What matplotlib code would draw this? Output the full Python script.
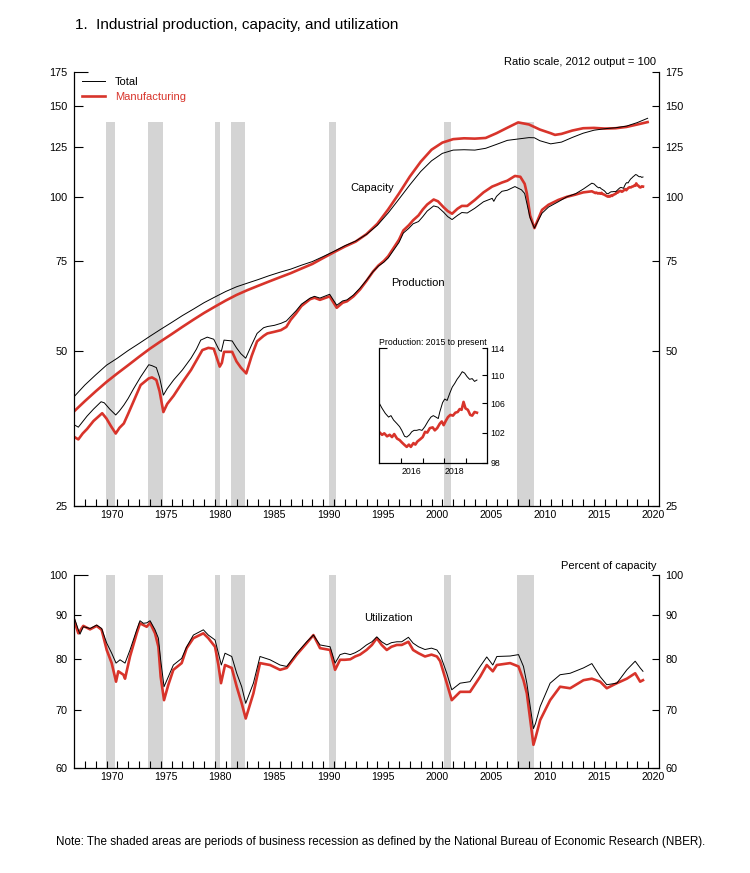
import matplotlib
matplotlib.use("Agg")
import matplotlib.pyplot as plt
from matplotlib.ticker import FixedLocator, FixedFormatter, NullFormatter, NullLocator
import numpy as np

plt.rcParams['font.family'] = ['Liberation Sans', 'DejaVu Sans']

# ---------------- data ----------------
# NBER recessions (peak to trough), decimal years
rec_start = [1969.92, 1973.83, 1980.0, 1981.5, 1990.5, 2001.17, 2007.92]
rec_end = [1970.83, 1975.17, 1980.5, 1982.83, 1991.17, 2001.83, 2009.42]

# Capacity, total industry (2012 output = 100)
cap_total_years = [1967, 1968, 1969, 1970, 1971, 1972, 1973, 1974, 1975, 1976, 1977, 1978,
                   1979, 1980, 1981, 1982, 1983, 1984, 1985, 1986, 1987, 1988, 1989, 1990,
                   1991, 1992, 1993, 1994, 1995, 1996, 1997, 1998, 1999, 2000, 2001, 2002,
                   2003, 2004, 2005, 2006, 2007, 2008, 2009, 2009.5, 2010, 2011, 2012, 2013,
                   2014, 2015, 2016, 2017, 2018, 2019, 2019.95]
cap_total = [40.8, 43.0, 45.0, 47.0, 48.5, 50.2, 51.8, 53.5, 55.2, 56.9, 58.7, 60.4,
             62.2, 63.8, 65.4, 66.8, 67.9, 69.0, 70.2, 71.3, 72.3, 73.6, 74.8, 76.5,
             78.3, 80.3, 82.0, 84.5, 88.0, 93.0, 99.0, 105.5, 112.0, 117.5, 121.5, 123.3,
             123.5, 123.3, 124.3, 126.5, 128.8, 129.6, 130.4, 130.3, 128.6, 126.8, 127.8, 130.5,
             133.0, 134.8, 135.7, 136.3, 137.3, 139.5, 142.2]

# Capacity, manufacturing
cap_mfg_years = [1967, 1968, 1969, 1970, 1971, 1972, 1973, 1974, 1975, 1976, 1977, 1978,
                 1979, 1980, 1981, 1982, 1983, 1984, 1985, 1986, 1987, 1988, 1989, 1990,
                 1991, 1992, 1993, 1994, 1995, 1996, 1997, 1998, 1999, 2000, 2001, 2002,
                 2003, 2004, 2005, 2006, 2007, 2008, 2009, 2010, 2011, 2011.4, 2012, 2013,
                 2014, 2015, 2016, 2017, 2018, 2019, 2019.95]
cap_mfg = [38.2, 40.0, 41.8, 43.6, 45.3, 47.0, 48.8, 50.6, 52.3, 54.0, 55.8, 57.6,
           59.4, 61.1, 62.8, 64.4, 65.8, 67.1, 68.4, 69.7, 71.0, 72.5, 74.0, 76.0,
           78.0, 80.0, 81.8, 84.6, 88.6, 94.5, 101.5, 109.5, 117.0, 123.5, 127.5, 129.5,
           130.0, 129.8, 130.2, 133.0, 136.3, 139.6, 138.3, 135.2, 133.0, 132.0, 132.6, 134.6,
           136.0, 136.2, 135.8, 136.0, 136.8, 138.3, 139.8]

# Industrial production, total
prod_total_years = [1967.0, 1967.4, 1967.8, 1968.2, 1968.8, 1969.5, 1969.8, 1970.3, 1970.85,
                    1971.2, 1971.6, 1972.0, 1972.5, 1973.15, 1973.9, 1974.2, 1974.6, 1974.9,
                    1975.25, 1975.6, 1976.2, 1977.0, 1977.8, 1978.3, 1978.7, 1979.3, 1979.9,
                    1980.4, 1980.6, 1980.85, 1981.6, 1982.0, 1982.4, 1982.85, 1983.4, 1983.9,
                    1984.5, 1984.85, 1985.5, 1986.1, 1986.6, 1987.0, 1987.5, 1988.0, 1988.8,
                    1989.2, 1989.7, 1990.6, 1991.25, 1991.8, 1992.2, 1992.8, 1993.4, 1994.0,
                    1994.6, 1995.1, 1995.6, 1996.0, 1996.5, 1997.0, 1997.4, 1997.9, 1998.3,
                    1998.8, 1999.2, 1999.6, 2000.2, 2000.6, 2001.1, 2001.5, 2001.9, 2002.4,
                    2002.8, 2003.3, 2004.0, 2004.8, 2005.6, 2005.75, 2006.0, 2006.5, 2007.0,
                    2007.7, 2008.3, 2008.6, 2008.8, 2009.1, 2009.5, 2009.8, 2010.2, 2010.8,
                    2011.7, 2012.5, 2013.3, 2014.0, 2014.8,
                    2015.02, 2015.13, 2015.28, 2015.43, 2015.54, 2015.66, 2015.82, 2015.94,
                    2016.04, 2016.17, 2016.27, 2016.40, 2016.50, 2016.61, 2016.73, 2016.85,
                    2016.98, 2017.11, 2017.27, 2017.39, 2017.50, 2017.62, 2017.73, 2017.80,
                    2017.93, 2018.03, 2018.14, 2018.26, 2018.38, 2018.49, 2018.60, 2018.72,
                    2018.84, 2018.95, 2019.06, 2019.18, 2019.30, 2019.41, 2019.52]
prod_total = [36.0, 35.6, 36.5, 37.4, 38.6, 39.9, 39.7, 38.6, 37.6,
              38.3, 39.3, 40.5, 42.3, 44.6, 47.1, 46.9, 46.5, 44.5,
              41.1, 42.3, 44.0, 46.0, 48.5, 50.5, 52.6, 53.3, 52.8,
              50.3, 50.0, 52.6, 52.4, 50.8, 49.5, 48.5, 51.5, 54.2,
              55.6, 55.9, 56.2, 56.7, 57.3, 58.5, 60.0, 61.8, 63.5,
              64.0, 63.5, 64.6, 61.5, 62.7, 63.0, 64.4, 66.4, 68.8,
              71.5, 73.3, 74.6, 76.0, 78.7, 81.5, 85.0, 86.8, 88.6,
              89.5, 91.5, 93.8, 96.0, 95.5, 93.4, 91.5, 90.3, 92.0,
              93.2, 93.0, 95.0, 97.8, 99.3, 98.0, 100.2, 102.5, 103.0,
              104.7, 103.2, 101.5, 97.2, 91.0, 86.9, 89.5, 92.9, 95.5,
              97.8, 100.0, 101.4, 103.5, 106.3,
              105.9, 105.3, 104.6, 104.1, 104.3, 103.7, 103.2, 102.8,
              102.3, 101.5, 101.4, 101.7, 102.1, 102.3, 102.3, 102.4,
              102.3, 102.8, 103.6, 104.1, 104.3, 104.1, 103.9, 104.8,
              106.1, 106.6, 106.4, 107.4, 108.3, 108.8, 109.4, 109.9,
              110.5, 110.3, 109.8, 109.4, 109.5, 109.1, 109.3]

# Industrial production, manufacturing
prod_mfg_years = [1967.0, 1967.4, 1967.8, 1968.2, 1968.8, 1969.6, 1970.0, 1970.4, 1970.85,
                  1971.2, 1971.6, 1972.0, 1972.5, 1973.15, 1973.9, 1974.2, 1974.6, 1974.9,
                  1975.25, 1975.6, 1976.2, 1977.0, 1977.8, 1978.3, 1978.85, 1979.4, 1979.9,
                  1980.45, 1980.65, 1980.85, 1981.6, 1982.0, 1982.4, 1982.9, 1983.4, 1983.9,
                  1984.5, 1984.85, 1985.5, 1986.1, 1986.6, 1987.0, 1987.5, 1988.0, 1988.8,
                  1989.2, 1989.7, 1990.6, 1991.25, 1991.8, 1992.2, 1992.8, 1993.4, 1994.0,
                  1994.6, 1995.1, 1995.6, 1996.0, 1996.5, 1997.0, 1997.4, 1997.9, 1998.3,
                  1998.8, 1999.2, 1999.6, 2000.2, 2000.6, 2001.1, 2001.5, 2001.9, 2002.4,
                  2002.8, 2003.3, 2004.0, 2004.8, 2005.6, 2006.0, 2006.5, 2007.0, 2007.7,
                  2008.2, 2008.6, 2008.8, 2009.1, 2009.5, 2009.8, 2010.2, 2010.8, 2011.7,
                  2012.5, 2013.3, 2014.0, 2014.8,
                  2015.02, 2015.13, 2015.23, 2015.36, 2015.48, 2015.59, 2015.69, 2015.82,
                  2015.94, 2016.04, 2016.15, 2016.27, 2016.37, 2016.46, 2016.58, 2016.67,
                  2016.76, 2016.89, 2017.01, 2017.12, 2017.22, 2017.34, 2017.47, 2017.57,
                  2017.68, 2017.80, 2017.89, 2017.98, 2018.08, 2018.18, 2018.29, 2018.41,
                  2018.52, 2018.63, 2018.72, 2018.81, 2018.90, 2018.99, 2019.10, 2019.21,
                  2019.30, 2019.41, 2019.52]
prod_mfg = [34.1, 33.7, 34.6, 35.3, 36.6, 37.9, 37.0, 35.8, 34.6,
            35.5, 36.2, 37.8, 40.0, 43.0, 44.3, 44.5, 44.0, 41.8,
            38.1, 39.5, 41.0, 43.5, 46.0, 48.0, 50.3, 50.8, 50.6,
            46.7, 47.5, 49.9, 49.9, 47.8, 46.5, 45.3, 49.0, 52.3,
            53.6, 54.2, 54.6, 55.0, 55.8, 57.6, 59.3, 61.3, 63.2,
            63.6, 63.0, 64.0, 60.8, 62.2, 62.6, 64.0, 66.0, 68.6,
            71.5, 73.5, 75.0, 76.6, 79.5, 82.5, 86.0, 88.0, 90.0,
            92.0, 94.5, 96.6, 98.8, 98.0, 95.5, 93.8, 92.7, 94.8,
            96.0, 96.0, 98.6, 102.0, 104.7, 105.5, 106.6, 107.5, 109.8,
            109.4, 106.0, 101.6, 92.0, 86.9, 90.0, 94.3, 96.5, 98.6,
            100.0, 101.0, 102.0, 102.5,
            102.0, 101.7, 101.9, 101.5, 101.7, 101.4, 101.8, 101.2,
            101.0, 100.7, 100.4, 100.1, 100.4, 100.1, 100.6, 100.4,
            100.8, 101.1, 101.4, 102.1, 102.0, 102.6, 102.7, 102.3,
            102.6, 103.2, 103.5, 103.0, 103.6, 104.1, 104.4, 104.3,
            104.7, 104.8, 105.2, 105.1, 106.2, 105.3, 105.1, 104.4,
            104.3, 104.8, 104.7]

# Capacity utilization, total (percent)
util_total_years = [1967.0, 1967.4, 1967.55, 1967.86, 1968.2, 1968.48, 1968.8, 1969.09, 1969.55,
                    1970.02, 1970.48, 1970.88, 1971.25, 1971.71, 1972.17, 1972.79, 1973.09,
                    1973.4, 1973.71, 1974.02, 1974.48, 1974.79, 1975.0, 1975.31, 1975.71,
                    1976.17, 1976.94, 1977.4, 1978.02, 1978.94, 1979.4, 1980.02, 1980.33,
                    1980.6, 1980.94, 1981.56, 1982.02, 1982.48, 1982.85, 1983.56, 1984.17,
                    1985.1, 1986.02, 1986.64, 1987.56, 1988.48, 1989.1, 1989.71, 1990.64,
                    1991.1, 1991.56, 1992.0, 1992.5, 1992.95, 1993.4, 1994.0, 1994.5, 1994.95,
                    1995.4, 1995.87, 1996.3, 1996.8, 1997.25, 1997.87, 1998.3, 1998.8, 1999.4,
                    2000.0, 2000.5, 2000.8, 2001.41, 2001.87, 2002.64, 2003.56,
                    2004.49, 2005.1, 2005.66, 2006.03, 2007.26, 2008.03, 2008.49, 2008.8,
                    2009.41, 2009.6, 2010.03, 2010.95, 2011.87, 2012.8, 2014.03, 2014.8,
                    2015.57, 2016.18, 2017.11, 2018.03, 2018.8, 2019.26, 2019.52]
util_total = [89.5, 86.5, 85.5, 87.2, 87.0, 86.8, 87.2, 87.6, 86.8,
              83.5, 81.3, 79.2, 79.9, 79.2, 82.0, 86.5, 88.6,
              88.0, 88.1, 88.6, 86.5, 84.6, 79.9, 74.4, 76.4,
              78.8, 80.2, 82.7, 85.3, 86.5, 85.3, 84.2, 81.3,
              78.8, 81.3, 80.6, 77.1, 74.4, 71.2, 75.1, 80.6,
              79.9, 78.8, 78.5, 81.3, 83.8, 85.3, 83.1, 82.7,
              79.2, 81.0, 81.3, 81.0, 81.4, 82.0, 83.1, 83.8, 84.9,
              83.8, 83.1, 83.6, 83.8, 83.8, 84.8, 83.5, 82.7, 82.1,
              82.4, 82.0, 81.0, 77.1, 73.8, 75.1, 75.4,
              78.5, 80.5, 78.8, 80.6, 80.7, 81.0, 78.5, 75.1,
              66.6, 67.5, 70.6, 75.1, 76.8, 77.1, 78.2, 79.1,
              76.4, 74.8, 75.1, 77.8, 79.6, 78.2, 77.5]

# Capacity utilization, manufacturing (percent)
util_mfg_years = [1967.0, 1967.4, 1967.86, 1968.48, 1969.09, 1969.55, 1970.02, 1970.48, 1970.88,
                  1971.09, 1971.56, 1971.71, 1972.17, 1972.79, 1973.09, 1973.71, 1974.02,
                  1974.48, 1974.79, 1975.0, 1975.31, 1975.71, 1976.17, 1976.94, 1977.4,
                  1978.02, 1978.94, 1979.4, 1980.02, 1980.33, 1980.57, 1980.94, 1981.56,
                  1982.02, 1982.48, 1982.85, 1983.56, 1984.17, 1985.1, 1986.02, 1986.64,
                  1987.56, 1988.48, 1989.1, 1989.71, 1990.64, 1991.1, 1991.56, 1992.0,
                  1992.5, 1992.95, 1993.4, 1994.0, 1994.5, 1994.95, 1995.4, 1995.87, 1996.3,
                  1996.8, 1997.25, 1997.87, 1998.3, 1998.8, 1999.4, 2000.0, 2000.5,
                  2000.8, 2001.41, 2001.87, 2002.64, 2003.56, 2004.49, 2005.1, 2005.66,
                  2006.03, 2007.26, 2008.03, 2008.49, 2008.8, 2009.41, 2009.6, 2010.03,
                  2010.95, 2011.87, 2012.8, 2014.03, 2014.8, 2015.57, 2016.18, 2017.11,
                  2018.03, 2018.8, 2019.26, 2019.52]
util_mfg = [88.8, 85.7, 87.4, 86.6, 87.4, 86.5, 82.0, 79.2, 75.4,
            77.5, 76.8, 76.0, 80.6, 85.7, 88.0, 87.2, 88.1,
            85.7, 82.7, 76.4, 71.8, 74.8, 77.8, 79.2, 82.4,
            84.6, 85.7, 84.6, 82.7, 78.8, 75.1, 78.8, 78.2,
            74.4, 71.2, 68.4, 73.1, 79.2, 78.8, 77.8, 78.2,
            81.0, 83.5, 85.3, 82.4, 82.0, 77.8, 79.9, 79.9,
            80.0, 80.6, 81.0, 82.0, 83.1, 84.6, 83.1, 82.0, 82.7,
            83.1, 83.1, 83.8, 82.0, 81.3, 80.6, 81.0, 80.6,
            79.6, 75.1, 71.8, 73.4, 73.4, 76.4, 78.8, 77.5,
            78.8, 79.2, 78.5, 75.7, 73.1, 63.8, 65.0, 68.1,
            71.8, 74.4, 74.1, 75.7, 76.0, 75.4, 74.1, 75.1,
            76.0, 77.1, 75.4, 75.7]

top_ticks = [25, 50, 75, 100, 125, 150, 175]
bot_ticks = [60, 70, 80, 90, 100]
inset_ticks = [98, 102, 106, 110, 114]
year_labels = ['1970', '1975', '1980', '1985', '1990', '1995', '2000', '2005', '2010', '2015', '2020']
inset_year_labels = ['2016', '2018']

# ---------------- styling ----------------
RED = '#d8342b'
GREY = '#d4d4d4'

fig = plt.figure(figsize=(7.5, 8.73), dpi=100)
W, H = 750.0, 873.0
ax1 = fig.add_axes([74 / W, 1 - 506 / H, 585 / W, 434 / H])
ax2 = fig.add_axes([74 / W, 1 - 768 / H, 585 / W, 193 / H])
axi = fig.add_axes([379.3 / W, 1 - 463 / H, 108 / W, 115 / H])
axi.set_facecolor('none')


def style_axis(ax, ylim, yticks, xlim, majors, lab_pos, labels, yfs, xfs, ylen, xlen, ypad,
               rlen, toplen):
    ax.set_yscale('log')
    ax.set_ylim(*ylim)
    ax.set_xlim(*xlim)
    ax.spines['top'].set_visible(False)
    for s in ['left', 'right', 'bottom']:
        ax.spines[s].set_linewidth(0.9)
    ax.yaxis.set_major_locator(FixedLocator(yticks))
    ax.yaxis.set_major_formatter(FixedFormatter([str(t) for t in yticks]))
    ax.yaxis.set_minor_locator(NullLocator())
    ax.yaxis.set_minor_formatter(NullFormatter())
    ax.tick_params(axis='y', which='major', direction='in', length=ylen, width=0.8,
                   labelsize=yfs, left=True, right=True, labelleft=True, labelright=True,
                   pad=ypad)
    ax.xaxis.set_major_locator(FixedLocator(majors))
    ax.xaxis.set_major_formatter(NullFormatter())
    ax.xaxis.set_minor_locator(FixedLocator(lab_pos))
    ax.xaxis.set_minor_formatter(FixedFormatter(labels))
    ax.tick_params(axis='x', which='major', direction='in', length=xlen, width=0.8)
    ax.tick_params(axis='x', which='minor', length=0, labelsize=xfs, pad=3)
    ticks = ax.yaxis.get_major_ticks()
    for t in ticks:
        t.tick2line.set_markersize(rlen)
    ticks[-1].tick1line.set_markersize(toplen)


years_major = list(range(1968, 2021))
label_pos = [int(l) + 0.5 for l in year_labels]
style_axis(ax1, (25, 175), top_ticks, (1967, 2021), years_major, label_pos, year_labels,
           7.8, 7.6, 6.5, 4.8, 4.5, 5.0, 10.0)
style_axis(ax2, (60, 100), bot_ticks, (1967, 2021), years_major, label_pos, year_labels,
           7.8, 7.6, 5.0, 4.8, 4.5, 5.0, 10.0)
style_axis(axi, (98, 114), inset_ticks, (2015, 2020), [2016, 2017, 2018, 2019],
           [int(l) + 0.5 for l in inset_year_labels], inset_year_labels, 6.3, 6.3,
           3.8, 3.5, 2.5, 3.8, 6.0)
axi.tick_params(axis='y', labelleft=False)
for t in axi.yaxis.get_major_ticks()[:-1]:
    t.tick1line.set_visible(False)

# recession shading
for s, e in zip(rec_start, rec_end):
    ax1.fill_betweenx([25, 140], s, e, color=GREY, lw=0, zorder=0)
    ax2.axvspan(s, e, color=GREY, lw=0, zorder=0)

LW_R, LW_K = 1.9, 0.7

# top panel lines
l_mfg, = ax1.plot(cap_mfg_years, cap_mfg, color=RED, lw=LW_R, zorder=2)
ax1.plot(prod_mfg_years, prod_mfg, color=RED, lw=LW_R, zorder=2)
l_tot, = ax1.plot(cap_total_years, cap_total, color='black', lw=LW_K, zorder=3)
ax1.plot(prod_total_years, prod_total, color='black', lw=LW_K, zorder=3)

ax1.legend([l_tot, l_mfg], ['Total', 'Manufacturing'], loc='upper left',
           bbox_to_anchor=(0.0, 1.006), frameon=False, fontsize=8, handlelength=2.1,
           handletextpad=0.9, labelspacing=0.45, borderaxespad=0.3,
           labelcolor='linecolor')

ax1.text(0.995, 1.022, 'Ratio scale, 2012 output = 100', transform=ax1.transAxes,
         ha='right', va='center', fontsize=8)
ax1.text(0.509, 0.733, 'Capacity', transform=ax1.transAxes, ha='center', va='center', fontsize=8)
ax1.text(0.588, 0.514, 'Production', transform=ax1.transAxes, ha='center', va='center', fontsize=8)

# inset: same production series, 2015 onward
ipt = np.array(prod_total_years)
ipm = np.array(prod_mfg_years)
mt = ipt >= 2015
mm = ipm >= 2015
axi.plot(ipm[mm], np.array(prod_mfg)[mm], color=RED, lw=LW_R, zorder=2)
axi.plot(ipt[mt], np.array(prod_total)[mt], color='black', lw=LW_K, zorder=3)
axi.text(0.0, 1.005, 'Production: 2015 to present', transform=axi.transAxes,
         ha='left', va='bottom', fontsize=6.3)

# bottom panel lines
ax2.plot(util_mfg_years, util_mfg, color=RED, lw=LW_R, zorder=2)
ax2.plot(util_total_years, util_total, color='black', lw=LW_K, zorder=3)
ax2.text(0.995, 1.047, 'Percent of capacity', transform=ax2.transAxes,
         ha='right', va='center', fontsize=8)
ax2.text(0.537, 0.777, 'Utilization', transform=ax2.transAxes, ha='center', va='center', fontsize=8)

fig.text(75 / W, 1 - 25 / H, '1.  Industrial production, capacity, and utilization',
         ha='left', va='center', fontsize=11)
fig.text(381 / W, 1 - 842 / H,
         'Note: The shaded areas are periods of business recession as defined by the '
         'National Bureau of Economic Research (NBER).',
         ha='center', va='center', fontsize=8.35)

fig.savefig('out.png', dpi=100)
